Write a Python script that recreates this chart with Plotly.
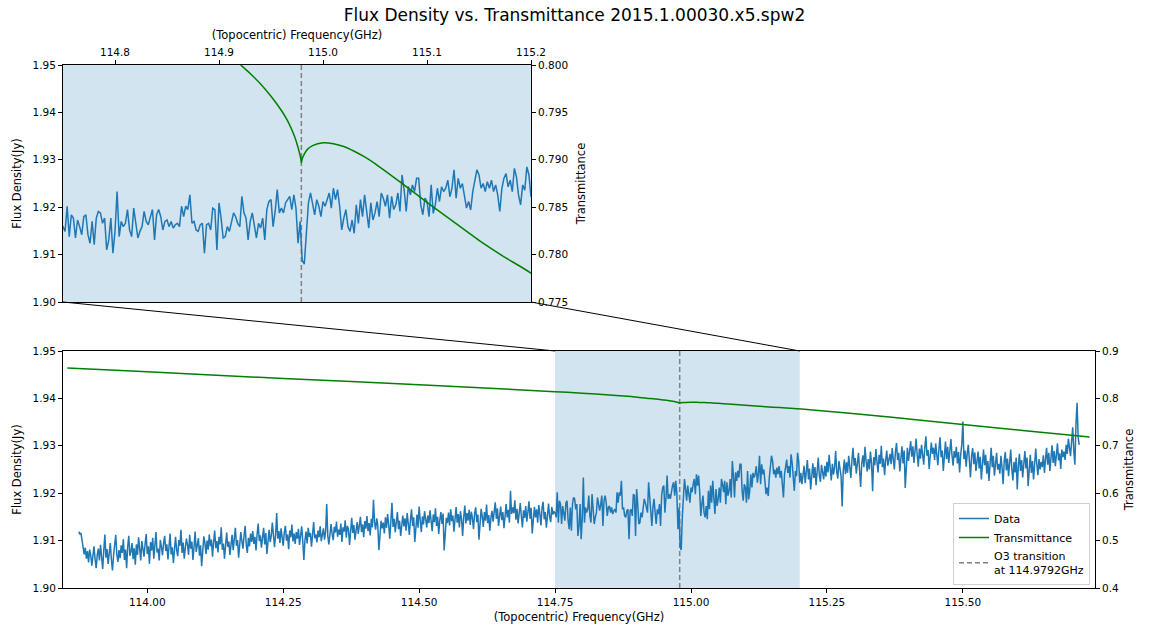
import numpy as np
import plotly.graph_objects as go

# ---------------- data ----------------
title_text = "Flux Density vs. Transmittance 2015.1.00030.x5.spw2"
o3_freq = 114.9792
zoom_lo, zoom_hi = 114.75, 115.20

chan_width = 0.002  # GHz per channel (sampled)
seg_start = [113.874, 114.750, 115.206]

flux_low = [
    1.9119, 1.9114, 1.9116, 1.9102, 1.9089, 1.9071, 1.9085, 1.9062, 1.9078, 1.9054, 1.9081, 1.9069, 1.9047, 1.9075, 1.9088, 1.9061, 1.9042, 1.9070, 1.9083, 1.9058,
    1.9091, 1.9066, 1.9040, 1.9079, 1.9113, 1.9064, 1.9082, 1.9051, 1.9073, 1.9095, 1.9060, 1.9037, 1.9069, 1.9086, 1.9112, 1.9071, 1.9055, 1.9080, 1.9063, 1.9090,
    1.9074, 1.9103, 1.9059, 1.9081, 1.9042, 1.9088, 1.9110, 1.9068, 1.9077, 1.9095, 1.9061, 1.9084, 1.9049, 1.9092, 1.9070, 1.9107, 1.9075, 1.9058, 1.9099, 1.9081,
    1.9066, 1.9093, 1.9114, 1.9072, 1.9088, 1.9051, 1.9097, 1.9079, 1.9106, 1.9062, 1.9090, 1.9118, 1.9075, 1.9083, 1.9058, 1.9101, 1.9087, 1.9069, 1.9095, 1.9110,
    1.9078, 1.9092, 1.9060, 1.9099, 1.9115, 1.9071, 1.9086, 1.9053, 1.9094, 1.9108, 1.9080, 1.9067, 1.9101, 1.9089, 1.9123, 1.9074, 1.9096, 1.9062, 1.9085, 1.9104,
    1.9091, 1.9070, 1.9112, 1.9083, 1.9098, 1.9059, 1.9087, 1.9119, 1.9076, 1.9093, 1.9105, 1.9068, 1.9090, 1.9046, 1.9084, 1.9109, 1.9095, 1.9072, 1.9100, 1.9081,
    1.9113, 1.9088, 1.9102, 1.9066, 1.9097, 1.9121, 1.9084, 1.9099, 1.9075, 1.9108, 1.9092, 1.9128, 1.9081, 1.9094, 1.9062, 1.9103, 1.9117, 1.9087, 1.9098, 1.9070,
    1.9096, 1.9112, 1.9080, 1.9105, 1.9127, 1.9089, 1.9101, 1.9064, 1.9093, 1.9118, 1.9099, 1.9083, 1.9110, 1.9131, 1.9092, 1.9074, 1.9106, 1.9088, 1.9115, 1.9097,
    1.9120, 1.9093, 1.9108, 1.9079, 1.9114, 1.9136, 1.9099, 1.9111, 1.9085, 1.9104, 1.9127, 1.9092, 1.9116, 1.9072, 1.9101, 1.9123, 1.9097, 1.9110, 1.9138, 1.9103,
    1.9086, 1.9112, 1.9158, 1.9104, 1.9120, 1.9095, 1.9126, 1.9108, 1.9089, 1.9117, 1.9131, 1.9100, 1.9113, 1.9082, 1.9121, 1.9107, 1.9134, 1.9098, 1.9115, 1.9093,
    1.9118, 1.9104, 1.9125, 1.9091, 1.9111, 1.9130, 1.9098, 1.9059, 1.9101, 1.9119, 1.9094, 1.9127, 1.9108, 1.9116, 1.9087, 1.9122, 1.9139, 1.9105, 1.9113, 1.9096,
    1.9121, 1.9107, 1.9130, 1.9099, 1.9115, 1.9126, 1.9102, 1.9119, 1.9177, 1.9110, 1.9092, 1.9124, 1.9135, 1.9113, 1.9101, 1.9129, 1.9117, 1.9140, 1.9108, 1.9123,
    1.9112, 1.9136, 1.9097, 1.9128, 1.9119, 1.9143, 1.9106, 1.9131, 1.9124, 1.9091, 1.9127, 1.9148, 1.9116, 1.9133, 1.9102, 1.9122, 1.9139, 1.9114, 1.9129, 1.9150,
    1.9118, 1.9134, 1.9107, 1.9141, 1.9125, 1.9152, 1.9120, 1.9137, 1.9111, 1.9146, 1.9128, 1.9186, 1.9139, 1.9123, 1.9147, 1.9131, 1.9080, 1.9119, 1.9142, 1.9126,
    1.9138, 1.9115, 1.9149, 1.9127, 1.9156, 1.9133, 1.9104, 1.9141, 1.9180, 1.9129, 1.9146, 1.9118, 1.9135, 1.9160, 1.9124, 1.9142, 1.9110, 1.9137, 1.9153, 1.9130,
    1.9147, 1.9121, 1.9158, 1.9136, 1.9112, 1.9144, 1.9166, 1.9131, 1.9149, 1.9097, 1.9139, 1.9155, 1.9127, 1.9172, 1.9143, 1.9118, 1.9151, 1.9134, 1.9162, 1.9140,
    1.9128, 1.9153, 1.9137, 1.9164, 1.9146, 1.9120, 1.9155, 1.9139, 1.9168, 1.9131, 1.9150, 1.9114, 1.9143, 1.9160, 1.9135, 1.9157, 1.9079, 1.9126, 1.9148, 1.9137,
    1.9159, 1.9132, 1.9166, 1.9141, 1.9153, 1.9119, 1.9147, 1.9171, 1.9138, 1.9156, 1.9128, 1.9162, 1.9145, 1.9110, 1.9150, 1.9174, 1.9136, 1.9158, 1.9142, 1.9165,
    1.9133, 1.9161, 1.9147, 1.9124, 1.9158, 1.9170, 1.9139, 1.9155, 1.9102, 1.9144, 1.9167, 1.9151, 1.9129, 1.9160, 1.9142, 1.9176, 1.9137, 1.9154, 1.9121, 1.9148,
    1.9163, 1.9140, 1.9157, 1.9181, 1.9146, 1.9168, 1.9131, 1.9155, 1.9172, 1.9143, 1.9160, 1.9126, 1.9152, 1.9177, 1.9149, 1.9165, 1.9138, 1.9205, 1.9156, 1.9170,
    1.9158, 1.9185, 1.9144, 1.9167, 1.9136, 1.9162, 1.9179, 1.9151, 1.9128, 1.9164, 1.9148, 1.9173, 1.9140, 1.9160, 1.9183, 1.9146, 1.9169, 1.9115, 1.9154, 1.9171,
    1.9149, 1.9166, 1.9138, 1.9175, 1.9157, 1.9132, 1.9168, 1.9182, 1.9145, 1.9160, 1.9127, 1.9163, 1.9178, 1.9150, 1.9139, 1.9171, 1.9155, 1.9161,
]

flux_zoom = [
    1.9159, 1.9149, 1.9202, 1.9138, 1.9184, 1.9177, 1.9135, 1.9173, 1.9159, 1.9142, 1.9180, 1.9184, 1.9142, 1.9124, 1.9170, 1.9121, 1.9177, 1.9191, 1.9188, 1.9166,
    1.9177, 1.9110, 1.9131, 1.9177, 1.9103, 1.9149, 1.9233, 1.9138, 1.9170, 1.9159, 1.9166, 1.9195, 1.9152, 1.9138, 1.9198, 1.9166, 1.9135, 1.9149, 1.9159, 1.9191,
    1.9170, 1.9163, 1.9177, 1.9195, 1.9131, 1.9184, 1.9195, 1.9180, 1.9152, 1.9170, 1.9173, 1.9159, 1.9170, 1.9156, 1.9163, 1.9166, 1.9159, 1.9202,
    1.9180, 1.9202, 1.9195, 1.9226, 1.9166, 1.9170, 1.9152, 1.9149, 1.9163, 1.9166, 1.9103, 1.9163, 1.9166, 1.9152, 1.9198, 1.9195, 1.9110, 1.9209, 1.9177, 1.9135,
    1.9138, 1.9159, 1.9149, 1.9170, 1.9188, 1.9180, 1.9166, 1.9159, 1.9223, 1.9188, 1.9177, 1.9131, 1.9170, 1.9188, 1.9159, 1.9135, 1.9166, 1.9156, 1.9177, 1.9131,
    1.9195, 1.9212, 1.9216, 1.9159, 1.9191, 1.9237, 1.9188, 1.9198, 1.9188, 1.9209, 1.9216, 1.9223, 1.9195, 1.9226, 1.9198, 1.9124, 1.9170,
    1.9088, 1.9080, 1.9150,
    1.9209, 1.9230, 1.9209, 1.9184, 1.9216, 1.9202, 1.9180, 1.9212, 1.9202, 1.9219, 1.9230, 1.9198, 1.9240, 1.9216, 1.9237, 1.9202, 1.9152, 1.9177, 1.9195, 1.9159,
    1.9149, 1.9173, 1.9145, 1.9205, 1.9166, 1.9216, 1.9180, 1.9226, 1.9191, 1.9156, 1.9209, 1.9173, 1.9188, 1.9212, 1.9180, 1.9230, 1.9219, 1.9202, 1.9226, 1.9177,
    1.9223, 1.9195, 1.9205, 1.9230, 1.9191, 1.9268, 1.9237, 1.9191, 1.9244, 1.9226, 1.9247, 1.9233, 1.9261,
    1.9261, 1.9205, 1.9184, 1.9219, 1.9212, 1.9180, 1.9247, 1.9187, 1.9205, 1.9240, 1.9212, 1.9243, 1.9233, 1.9240, 1.9257, 1.9222, 1.9240, 1.9279, 1.9219, 1.9261,
    1.9240, 1.9250, 1.9226, 1.9198, 1.9212, 1.9194, 1.9233, 1.9257, 1.9279, 1.9268, 1.9240, 1.9250, 1.9233, 1.9254, 1.9240, 1.9257, 1.9233, 1.9247, 1.9226, 1.9191,
    1.9240, 1.9261, 1.9271, 1.9243, 1.9257, 1.9233, 1.9282, 1.9264, 1.9226, 1.9205, 1.9247, 1.9236, 1.9285, 1.9268, 1.9222, 1.9243, 1.9219,
]

flux_high = [
    1.9236, 1.9258, 1.9221, 1.9247, 1.9270, 1.9229, 1.9252, 1.9208, 1.9241, 1.9263, 1.9232, 1.9255, 1.9217, 1.9246, 1.9275, 1.9238, 1.9224, 1.9260, 1.9243, 1.9229,
    1.9258, 1.9235, 1.9266, 1.9244, 1.9281, 1.9250, 1.9227, 1.9262, 1.9239, 1.9254, 1.9289, 1.9245, 1.9231, 1.9268, 1.9252, 1.9236, 1.9172, 1.9248, 1.9271, 1.9240,
    1.9265, 1.9243, 1.9279, 1.9254, 1.9232, 1.9270, 1.9296, 1.9258, 1.9274, 1.9241, 1.9267, 1.9285, 1.9249, 1.9213, 1.9262, 1.9280, 1.9255, 1.9298, 1.9268, 1.9246,
    1.9272, 1.9250, 1.9288, 1.9263, 1.9204, 1.9276, 1.9259, 1.9293, 1.9266, 1.9244, 1.9281, 1.9262, 1.9300, 1.9255, 1.9273, 1.9238, 1.9269, 1.9290, 1.9258, 1.9275,
    1.9283, 1.9261, 1.9295, 1.9272, 1.9250, 1.9288, 1.9306, 1.9270, 1.9285, 1.9246, 1.9279, 1.9299, 1.9263, 1.9290, 1.9211, 1.9275, 1.9296, 1.9268, 1.9284, 1.9310,
    1.9277, 1.9299, 1.9264, 1.9290, 1.9315, 1.9281, 1.9256, 1.9294, 1.9273, 1.9302, 1.9286, 1.9260, 1.9297, 1.9320, 1.9279, 1.9291, 1.9251, 1.9288, 1.9307, 1.9283,
    1.9296, 1.9270, 1.9305, 1.9282, 1.9259, 1.9293, 1.9318, 1.9276, 1.9290, 1.9247, 1.9284, 1.9309, 1.9272, 1.9298, 1.9264, 1.9291, 1.9314, 1.9280, 1.9258, 1.9289,
    1.9275, 1.9298, 1.9263, 1.9287, 1.9244, 1.9281, 1.9303, 1.9351, 1.9272, 1.9290, 1.9256, 1.9284, 1.9302, 1.9268, 1.9233, 1.9279, 1.9295, 1.9261, 1.9286, 1.9247,
    1.9270, 1.9288, 1.9252, 1.9277, 1.9229, 1.9264, 1.9292, 1.9259, 1.9281, 1.9241, 1.9268, 1.9226, 1.9273, 1.9296, 1.9255, 1.9279, 1.9237, 1.9266, 1.9285, 1.9250,
    1.9262, 1.9241, 1.9279, 1.9255, 1.9219, 1.9268, 1.9287, 1.9248, 1.9273, 1.9236, 1.9259, 1.9292, 1.9251, 1.9227, 1.9266, 1.9244, 1.9275, 1.9208, 1.9258, 1.9283,
    1.9247, 1.9270, 1.9233, 1.9264, 1.9289, 1.9252, 1.9275, 1.9215, 1.9260, 1.9281, 1.9243, 1.9268, 1.9229, 1.9256, 1.9294, 1.9261, 1.9238, 1.9272, 1.9250, 1.9266,
    1.9255, 1.9280, 1.9243, 1.9272, 1.9296, 1.9260, 1.9285, 1.9247, 1.9273, 1.9301, 1.9264, 1.9289, 1.9257, 1.9278, 1.9305, 1.9269, 1.9284, 1.9251, 1.9292, 1.9276,
    1.9288, 1.9270, 1.9302, 1.9283, 1.9315, 1.9296, 1.9278, 1.9310, 1.9339, 1.9289, 1.9260, 1.9345, 1.9391, 1.9318, 1.9302,
]

trans_freq = [113.853, 114.000, 114.250, 114.500, 114.750, 114.800, 114.850, 114.890,
              114.910, 114.921, 114.930, 114.940, 114.950, 114.960, 114.966, 114.9725,
              114.976, 114.9785, 114.9792, 114.9800, 114.982, 114.985, 114.990,
              115.000, 115.010, 115.020, 115.030, 115.040, 115.050, 115.060, 115.075,
              115.100, 115.125, 115.150, 115.175, 115.203, 115.365, 115.500, 115.610,
              115.733]
trans_value = [0.8641, 0.8560, 0.8420, 0.8290, 0.8141, 0.8110, 0.8074, 0.8038,
               0.8014, 0.8000, 0.7991, 0.7980, 0.7967, 0.7952, 0.7941, 0.7925,
               0.7913, 0.7902, 0.7897, 0.7901, 0.7906, 0.7911, 0.7915,
               0.7918, 0.7917, 0.7914, 0.7909, 0.7903, 0.7896, 0.7888, 0.7876,
               0.7855, 0.7835, 0.7815, 0.7797, 0.7778, 0.7605, 0.7450, 0.7325,
               0.7185]

main_xticks = [114.00, 114.25, 114.50, 114.75, 115.00, 115.25, 115.50]
zoom_xticks = [114.8, 114.9, 115.0, 115.1, 115.2]
flux_ticks = [1.90, 1.91, 1.92, 1.93, 1.94, 1.95]
main_trans_ticks = [0.4, 0.5, 0.6, 0.7, 0.8, 0.9]
zoom_trans_ticks = [0.775, 0.780, 0.785, 0.790, 0.795, 0.800]

main_xrange = [113.845, 115.743]
flux_range = [1.90, 1.95]
main_trans_range = [0.4, 0.9]
zoom_trans_range = [0.775, 0.800]

# ---------------- build ----------------
freq = np.concatenate([s + chan_width * np.arange(len(seg))
                       for s, seg in zip(seg_start, [flux_low, flux_zoom, flux_high])])
flux = np.array(flux_low + flux_zoom + flux_high)

W, H = 1149, 628
main_x_dom = [63 / W, 1095 / W]
main_y_dom = [1 - 588 / H, 1 - 351 / H]
zoom_x_dom = [63 / W, 531 / W]
zoom_y_dom = [1 - 302 / H, 1 - 65 / H]

FONT = "DejaVu Sans"
blue = "#1f77b4"
green = "#008000"
shade = "rgba(31,119,180,0.2)"

fig = go.Figure()
fig.add_trace(go.Scatter(x=freq, y=flux, mode="lines", name="Data",
                         line=dict(color=blue, width=1.5), xaxis="x", yaxis="y"))
fig.add_trace(go.Scatter(x=trans_freq, y=trans_value, mode="lines", name="Transmittance",
                         line=dict(color=green, width=1.5, shape="spline", smoothing=0.6),
                         xaxis="x", yaxis="y2"))
fig.add_trace(go.Scatter(x=[None], y=[None], mode="lines",
                         name="O3 transition<br>at %.4fGHz" % o3_freq,
                         line=dict(color="gray", width=1.5, dash="5px,3px"),
                         xaxis="x", yaxis="y"))
fig.add_trace(go.Scatter(x=freq, y=flux, mode="lines", showlegend=False,
                         line=dict(color=blue, width=1.5), xaxis="x3", yaxis="y3"))
fig.add_trace(go.Scatter(x=trans_freq, y=trans_value, mode="lines", showlegend=False,
                         line=dict(color=green, width=1.5, shape="spline", smoothing=0.6),
                         xaxis="x3", yaxis="y4"))

axis_common = dict(showline=True, linecolor="black", linewidth=1, ticks="outside",
                   ticklen=4, tickwidth=1, tickcolor="black", showgrid=False,
                   zeroline=False, tickfont=dict(family=FONT, size=10.5, color="black"),
                   title_font=dict(family=FONT, size=11.5, color="black"))

fig.update_layout(
    width=W, height=H, template="none",
    margin=dict(l=0, r=0, t=0, b=0),
    paper_bgcolor="white", plot_bgcolor="white",
    font=dict(family=FONT, color="black"),
    title=dict(text=title_text, x=0.5, xanchor="center", y=1 - 15 / H, yanchor="middle",
               font=dict(family=FONT, size=17, color="black")),
    xaxis=dict(axis_common, domain=main_x_dom, anchor="y", range=main_xrange,
               tickvals=main_xticks, ticktext=["%.2f" % v for v in main_xticks],
               mirror=True, title=dict(text="(Topocentric) Frequency(GHz)", standoff=6)),
    yaxis=dict(axis_common, domain=main_y_dom, anchor="x", range=flux_range,
               tickvals=flux_ticks, ticktext=["%.2f" % v for v in flux_ticks],
               title=dict(text="Flux Density(Jy)", standoff=8)),
    yaxis2=dict(axis_common, overlaying="y", side="right", anchor="x", range=main_trans_range,
                tickvals=main_trans_ticks, ticktext=["%.1f" % v for v in main_trans_ticks],
                title=dict(text="Transmittance", standoff=6)),
    xaxis3=dict(axis_common, domain=zoom_x_dom, anchor="y3", side="top", range=[zoom_lo, zoom_hi],
                tickvals=zoom_xticks, ticktext=["%.1f" % v for v in zoom_xticks],
                mirror=True, title=dict(text="(Topocentric) Frequency(GHz)", standoff=3)),
    yaxis3=dict(axis_common, domain=zoom_y_dom, anchor="x3", range=flux_range,
                tickvals=flux_ticks, ticktext=["%.2f" % v for v in flux_ticks],
                title=dict(text="Flux Density(Jy)", standoff=8)),
    yaxis4=dict(axis_common, overlaying="y3", side="right", anchor="x3", range=zoom_trans_range,
                tickvals=zoom_trans_ticks, ticktext=["%.3f" % v for v in zoom_trans_ticks],
                title=dict(text="Transmittance", standoff=9)),
    legend=dict(x=1090 / W, y=1 - 585 / H, xanchor="right", yanchor="bottom",
                bgcolor="rgba(255,255,255,0.85)", bordercolor="#d0d0d0", borderwidth=1,
                font=dict(family=FONT, size=11, color="black"), tracegroupgap=0,
                itemwidth=30),
    showlegend=True,
)

def main_paper_x(f):
    return main_x_dom[0] + (f - main_xrange[0]) / (main_xrange[1] - main_xrange[0]) * (main_x_dom[1] - main_x_dom[0])

shapes = [
    dict(type="rect", xref="x", yref="y domain", x0=zoom_lo, x1=zoom_hi, y0=0, y1=1,
         fillcolor=shade, line=dict(width=0), layer="below"),
    dict(type="rect", xref="x3 domain", yref="y3 domain", x0=0, x1=1, y0=0, y1=1,
         fillcolor=shade, line=dict(width=0), layer="below"),
    dict(type="line", xref="x", yref="y domain", x0=o3_freq, x1=o3_freq, y0=0, y1=1,
         line=dict(color="gray", width=1.5, dash="5px,3px"), layer="below"),
    dict(type="line", xref="x3", yref="y3 domain", x0=o3_freq, x1=o3_freq, y0=0, y1=1,
         line=dict(color="gray", width=1.5, dash="5px,3px"), layer="below"),
    dict(type="line", xref="paper", yref="paper", x0=zoom_x_dom[0], y0=zoom_y_dom[0],
         x1=main_paper_x(zoom_lo), y1=main_y_dom[1], line=dict(color="black", width=1)),
    dict(type="line", xref="paper", yref="paper", x0=zoom_x_dom[1], y0=zoom_y_dom[0],
         x1=main_paper_x(zoom_hi), y1=main_y_dom[1], line=dict(color="black", width=1)),
]
fig.update_layout(shapes=shapes)

fig.write_html("out.html")
